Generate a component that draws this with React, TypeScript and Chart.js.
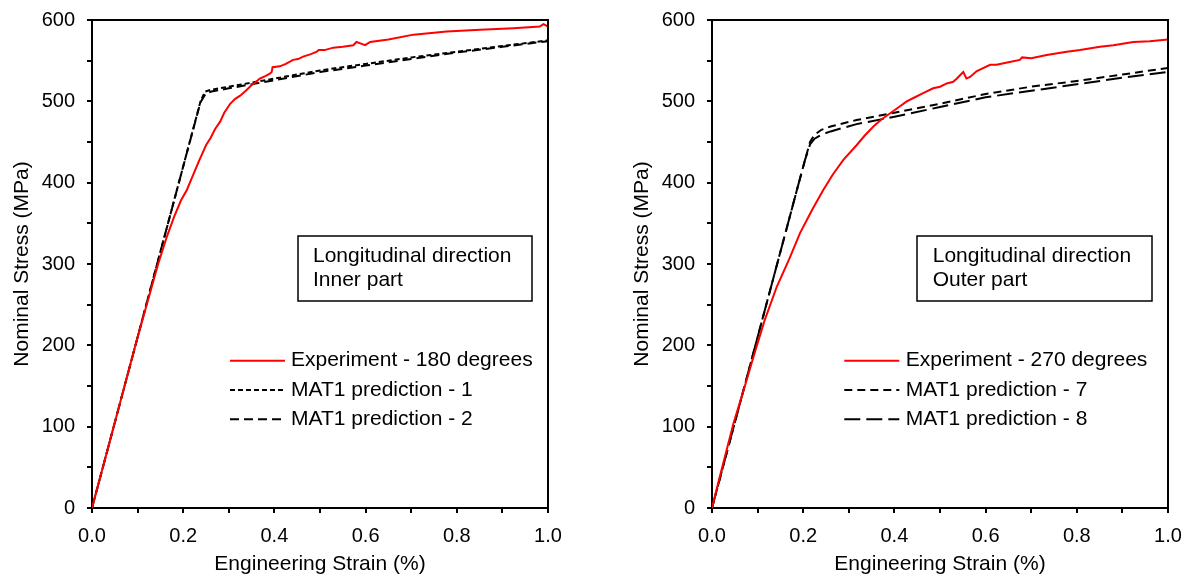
import React, { useEffect, useRef } from 'react';
import { Chart, registerables } from 'chart.js';

Chart.register(...registerables);

const FONT = '"Liberation Sans", Arial, Helvetica, sans-serif';

// ---------- Left panel: Longitudinal direction, Inner part ----------
const innerExpStrain = [0, 0.02, 0.05, 0.08, 0.1, 0.12, 0.145, 0.165, 0.18, 0.195, 0.208, 0.22, 0.235, 0.25, 0.26, 0.27, 0.281, 0.29, 0.303, 0.314, 0.325, 0.339, 0.35, 0.36, 0.368, 0.38, 0.39, 0.394, 0.396, 0.412, 0.425, 0.441, 0.452, 0.463, 0.48, 0.493, 0.497, 0.51, 0.529, 0.55, 0.573, 0.58, 0.59, 0.599, 0.61, 0.65, 0.705, 0.778, 0.851, 0.924, 0.982, 0.99, 1.0];
const innerExpStress = [0, 42, 105, 168, 210, 250, 300, 335, 358, 378, 391, 407, 427, 446, 455, 466, 475, 486, 497, 503, 507, 514, 520, 524, 528, 531, 534, 536, 542, 543, 546, 551, 552, 555, 558, 561, 563, 563, 566, 567, 569, 573, 571, 569, 573, 576, 582, 586, 588, 590, 592, 595, 592];

const innerP1Strain = [0, 0.1, 0.2, 0.238, 0.248, 0.26, 0.3, 0.4, 0.5, 0.6, 0.7, 0.8, 0.9, 1.0];
const innerP1Stress = [0, 210, 420, 500, 512, 514, 518, 528, 538, 546, 554, 561, 568, 575];
const innerP2Strain = [0, 0.1, 0.2, 0.238, 0.25, 0.262, 0.3, 0.4, 0.5, 0.6, 0.7, 0.8, 0.9, 1.0];
const innerP2Stress = [0, 210, 420, 499, 510, 512, 516, 526, 536, 544, 552, 560, 567, 574];

// ---------- Right panel: Longitudinal direction, Outer part ----------
const outerExpStrain = [0, 0.02, 0.047, 0.07, 0.091, 0.115, 0.142, 0.17, 0.193, 0.22, 0.244, 0.265, 0.288, 0.317, 0.335, 0.354, 0.372, 0.39, 0.41, 0.427, 0.445, 0.463, 0.485, 0.5, 0.515, 0.529, 0.537, 0.551, 0.558, 0.566, 0.58, 0.591, 0.61, 0.624, 0.65, 0.675, 0.68, 0.7, 0.734, 0.778, 0.807, 0.851, 0.88, 0.924, 0.96, 1.0];
const outerExpStress = [0, 45, 104, 146, 186, 230, 272, 307, 338, 367, 391, 410, 428, 446, 458, 469, 478, 485, 493, 500, 505, 510, 516, 518, 522, 524, 528, 536, 528, 530, 537, 540, 545, 545, 548, 551, 554, 553, 557, 561, 563, 567, 569, 573, 574, 576];

const outerP7Strain = [0, 0.1, 0.19, 0.204, 0.215, 0.225, 0.24, 0.26, 0.317, 0.4, 0.5, 0.6, 0.7, 0.8, 0.9, 1.0];
const outerP7Stress = [0, 210, 399, 428, 450, 459, 465, 469, 477, 486, 497, 509, 518, 525, 533, 541];
const outerP8Strain = [0, 0.1, 0.19, 0.204, 0.215, 0.225, 0.24, 0.26, 0.317, 0.4, 0.5, 0.6, 0.7, 0.8, 0.9, 1.0];
const outerP8Stress = [0, 210, 399, 428, 447, 454, 459, 463, 472, 481, 493, 505, 513, 521, 529, 536];

// ---------- Labels ----------
const xTitle = 'Engineering Strain (%)';
const yTitle = 'Nominal Stress (MPa)';
const innerLabels = ['Experiment - 180 degrees', 'MAT1 prediction - 1', 'MAT1 prediction - 2'];
const outerLabels = ['Experiment - 270 degrees', 'MAT1 prediction - 7', 'MAT1 prediction - 8'];
const innerBoxText = ['Longitudinal direction', 'Inner part'];
const outerBoxText = ['Longitudinal direction', 'Outer part'];

const toPoints = (xs: number[], ys: number[]) => xs.map((x, i) => ({ x, y: ys[i] }));

const decorPlugin = {
  id: 'decor',
  afterDraw(chart: any, _args: any, opts: any) {
    const { ctx, chartArea: ca } = chart;
    ctx.save();
    // top and right frame
    ctx.strokeStyle = '#000';
    ctx.lineWidth = 2;
    ctx.beginPath();
    ctx.moveTo(ca.left - 1, ca.top);
    ctx.lineTo(ca.right, ca.top);
    ctx.lineTo(ca.right, ca.bottom + 1);
    ctx.stroke();

    // annotation box
    const b = opts.box;
    ctx.lineWidth = 1.5;
    ctx.strokeRect(ca.left + b.x, ca.top + b.y, b.w, b.h);
    ctx.fillStyle = '#000';
    ctx.font = `21px ${FONT}`;
    ctx.textAlign = 'left';
    ctx.textBaseline = 'middle';
    (opts.boxText as string[]).forEach((t, i) => {
      ctx.fillText(t, ca.left + b.tx, ca.top + b.ty + i * 24);
    });

    // legend
    const L = opts.legend;
    chart.data.datasets.forEach((ds: any, i: number) => {
      const y = ca.top + L.y + i * 29.3;
      ctx.beginPath();
      ctx.setLineDash(ds.borderDash || []);
      ctx.strokeStyle = ds.borderColor;
      ctx.lineWidth = 2;
      ctx.moveTo(ca.left + L.x1, y);
      ctx.lineTo(ca.left + L.x2, y);
      ctx.stroke();
      ctx.setLineDash([]);
      ctx.fillStyle = '#000';
      ctx.fillText(ds.label, ca.left + L.tx, y);
    });
    ctx.restore();
  },
};

function makeConfig(datasets: any[], decor: any): any {
  return {
    type: 'line',
    data: { datasets },
    plugins: [decorPlugin],
    options: {
      animation: false,
      responsive: false,
      devicePixelRatio: 1,
      layout: { padding: { left: 0, top: 20, right: 26, bottom: 0 } },
      elements: { point: { radius: 0 }, line: { tension: 0 } },
      plugins: {
        legend: { display: false },
        tooltip: { enabled: false },
        decor,
      },
      scales: {
        x: {
          type: 'linear',
          min: 0,
          max: 1,
          ticks: {
            stepSize: 0.1,
            autoSkip: false,
            maxRotation: 0,
            color: '#000',
            padding: 11,
            font: { family: FONT, size: 20 },
            callback: (v: number) => (Math.round(v * 10) % 2 === 0 ? v.toFixed(1) : ''),
          },
          grid: { drawOnChartArea: false, drawTicks: true, tickLength: 5, color: '#000', lineWidth: 2 },
          border: { display: true, color: '#000', width: 2 },
          title: { display: true, text: xTitle, color: '#000', font: { family: FONT, size: 21 }, padding: { top: 4, bottom: 4 } },
          afterFit: (s: any) => { s.height = 73; s.paddingLeft = 0; s.paddingRight = 0; },
        },
        y: {
          type: 'linear',
          min: 0,
          max: 600,
          ticks: {
            stepSize: 50,
            autoSkip: false,
            color: '#000',
            padding: 12,
            font: { family: FONT, size: 20 },
            callback: (v: number) => (v % 100 === 0 ? String(v) : ''),
          },
          grid: { drawOnChartArea: false, drawTicks: true, tickLength: 5, color: '#000', lineWidth: 2 },
          border: { display: true, color: '#000', width: 2 },
          title: { display: true, text: yTitle, color: '#000', font: { family: FONT, size: 21 }, padding: { top: 10, bottom: 4 } },
          afterFit: (s: any) => { s.width = 92; s.paddingTop = 0; s.paddingBottom = 0; },
        },
      },
    },
  };
}

export default function App() {
  const leftRef = useRef<HTMLCanvasElement>(null);
  const rightRef = useRef<HTMLCanvasElement>(null);

  useEffect(() => {
    const left = new Chart(leftRef.current as HTMLCanvasElement, makeConfig(
      [
        { label: innerLabels[0], data: toPoints(innerExpStrain, innerExpStress), borderColor: '#ff0000', borderWidth: 2 },
        { label: innerLabels[1], data: toPoints(innerP1Strain, innerP1Stress), borderColor: '#000000', borderWidth: 2, borderDash: [5, 3] },
        { label: innerLabels[2], data: toPoints(innerP2Strain, innerP2Stress), borderColor: '#000000', borderWidth: 2, borderDash: [9, 5] },
      ],
      {
        box: { x: 206, y: 216, w: 234, h: 65, tx: 221, ty: 236.7 },
        boxText: innerBoxText,
        legend: { x1: 138, x2: 193, tx: 199, y: 340.7 },
      }
    ));
    const right = new Chart(rightRef.current as HTMLCanvasElement, makeConfig(
      [
        { label: outerLabels[0], data: toPoints(outerExpStrain, outerExpStress), borderColor: '#ff0000', borderWidth: 2 },
        { label: outerLabels[1], data: toPoints(outerP7Strain, outerP7Stress), borderColor: '#000000', borderWidth: 2, borderDash: [8, 5] },
        { label: outerLabels[2], data: toPoints(outerP8Strain, outerP8Stress), borderColor: '#000000', borderWidth: 2, borderDash: [16, 6] },
      ],
      {
        box: { x: 205, y: 216, w: 235, h: 65, tx: 220.7, ty: 236.7 },
        boxText: outerBoxText,
        legend: { x1: 132.3, x2: 187.3, tx: 193.7, y: 340.7 },
      }
    ));
    return () => {
      left.destroy();
      right.destroy();
    };
  }, []);

  return (
    <div style={{ position: 'fixed', left: 0, top: 0, width: 1194, height: 581, background: '#fff', overflow: 'hidden' }}>
      <canvas ref={leftRef} width={574} height={581} style={{ position: 'absolute', left: 0, top: 0, width: 574, height: 581 }} />
      <canvas ref={rightRef} width={574} height={581} style={{ position: 'absolute', left: 620, top: 0, width: 574, height: 581 }} />
    </div>
  );
}
